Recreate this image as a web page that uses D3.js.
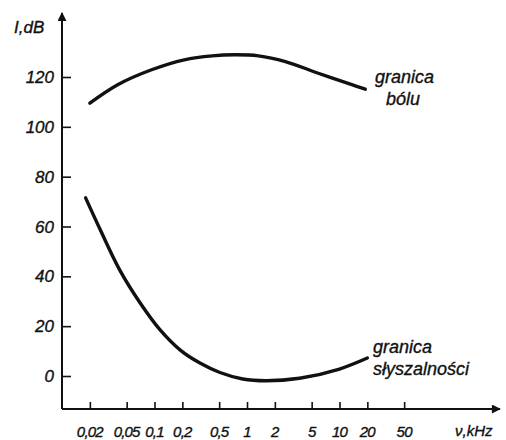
<!DOCTYPE html>
<html>
<head>
<meta charset="utf-8">
<script src="https://cdn.jsdelivr.net/npm/d3@7"></script>
<style>
  body { margin: 0; background: #fff; }
  text { font-family: "Liberation Sans", Arial, sans-serif; font-style: italic; fill: #111; stroke: #111; stroke-width: 0.35px; }
</style>
</head>
<body>
<svg id="chart" width="506" height="440"></svg>
<script>
'use strict';

// frequency in kHz, level in dB
const PAIN_FREQ = [0.02, 0.04, 0.093, 0.21, 0.42, 0.74, 1.33, 2.6, 5.9, 13.6, 19];
const PAIN_DB = [109.5, 116.9, 122.9, 126.9, 128.5, 128.9, 128.5, 126.2, 121.5, 116.9, 115.1];

const HEAR_FREQ = [0.018, 0.026, 0.042, 0.07, 0.115, 0.19, 0.31, 0.51, 0.9, 1.6, 3.7, 10, 20];
const HEAR_DB = [71.5, 58.6, 42.6, 29.3, 18.5, 10.4, 5.2, 1.4, -1.2, -1.9, -0.9, 2.8, 7.2];

const X_TICKS = [0.02, 0.05, 0.1, 0.2, 0.5, 1, 2, 5, 10, 20, 50];
const Y_TICKS = [0, 20, 40, 60, 80, 100, 120];

const svg = d3.select('#chart');
const INK = '#111';

const x = d3.scaleLog().domain([0.01, 100]).range([62, 432]);
const y = d3.scaleLinear().domain([0, 120]).range([376, 77]);

const X0 = 62, Y0 = 409; // axis origin

// arrow head
svg.append('defs').append('marker')
    .attr('id', 'arrow')
    .attr('viewBox', '0 0 10 10')
    .attr('refX', 9).attr('refY', 5)
    .attr('markerWidth', 7).attr('markerHeight', 4.5)
    .attr('markerUnits', 'strokeWidth')
    .attr('orient', 'auto')
  .append('path')
    .attr('d', 'M0,0 L10,5 L0,10 Z')
    .attr('fill', INK);

// axes lines
svg.append('line')
    .attr('x1', X0).attr('y1', Y0).attr('x2', 500).attr('y2', Y0)
    .attr('stroke', INK).attr('stroke-width', 2)
    .attr('marker-end', 'url(#arrow)');
svg.append('line')
    .attr('x1', X0).attr('y1', Y0).attr('x2', X0).attr('y2', 13)
    .attr('stroke', INK).attr('stroke-width', 2)
    .attr('marker-end', 'url(#arrow)');

// y ticks
const yAxis = d3.axisRight(y).tickValues(Y_TICKS).tickSize(9).tickFormat('');
svg.append('g').attr('transform', `translate(${X0},0)`).call(yAxis)
    .call(g => g.select('.domain').remove())
    .call(g => g.selectAll('line').attr('stroke', INK).attr('stroke-width', 1.6));
svg.append('g').selectAll('text')
    .data(Y_TICKS)
    .enter()
    .append('text')
    .attr('x', 54)
    .attr('y', d => y(d) + 6)
    .attr('text-anchor', 'end')
    .style('font-size', '17px')
    .text(d => d);

// x ticks
const xAxis = d3.axisTop(x).tickValues(X_TICKS).tickSize(7).tickFormat('');
svg.append('g').attr('transform', `translate(0,${Y0})`).call(xAxis)
    .call(g => g.select('.domain').remove())
    .call(g => g.selectAll('line').attr('stroke', INK).attr('stroke-width', 1.6));
svg.append('g').selectAll('text')
    .data(X_TICKS)
    .enter()
    .append('text')
    .attr('x', d => x(d))
    .attr('y', 437)
    .attr('text-anchor', 'middle')
    .style('font-size', '15px')
    .style('letter-spacing', '-0.8px')
    .text(d => String(d).replace('.', ','));

// axis titles
svg.append('text').attr('x', 14).attr('y', 33).style('font-size', '17px').text('I,dB');
svg.append('text').attr('x', 455).attr('y', 436).style('font-size', '15px').text('ν,kHz');

// curves
const line = d3.line()
    .x(d => x(d[0]))
    .y(d => y(d[1]))
    .curve(d3.curveCatmullRom.alpha(0.5));

svg.append('path')
    .datum(d3.zip(PAIN_FREQ, PAIN_DB))
    .attr('d', line)
    .attr('fill', 'none').attr('stroke', INK).attr('stroke-width', 3.4)
    .attr('stroke-linecap', 'round');

svg.append('path')
    .datum(d3.zip(HEAR_FREQ, HEAR_DB))
    .attr('d', line)
    .attr('fill', 'none').attr('stroke', INK).attr('stroke-width', 3.4)
    .attr('stroke-linecap', 'round');

// labels
const lab = svg.append('g').style('font-size', '18px');
lab.append('text').attr('x', 375).attr('y', 83).text('granica');
lab.append('text').attr('x', 386).attr('y', 105).text('bólu');
lab.append('text').attr('x', 373).attr('y', 353).text('granica');
lab.append('text').attr('x', 373).attr('y', 375).text('słyszalności');
</script>
</body>
</html>
